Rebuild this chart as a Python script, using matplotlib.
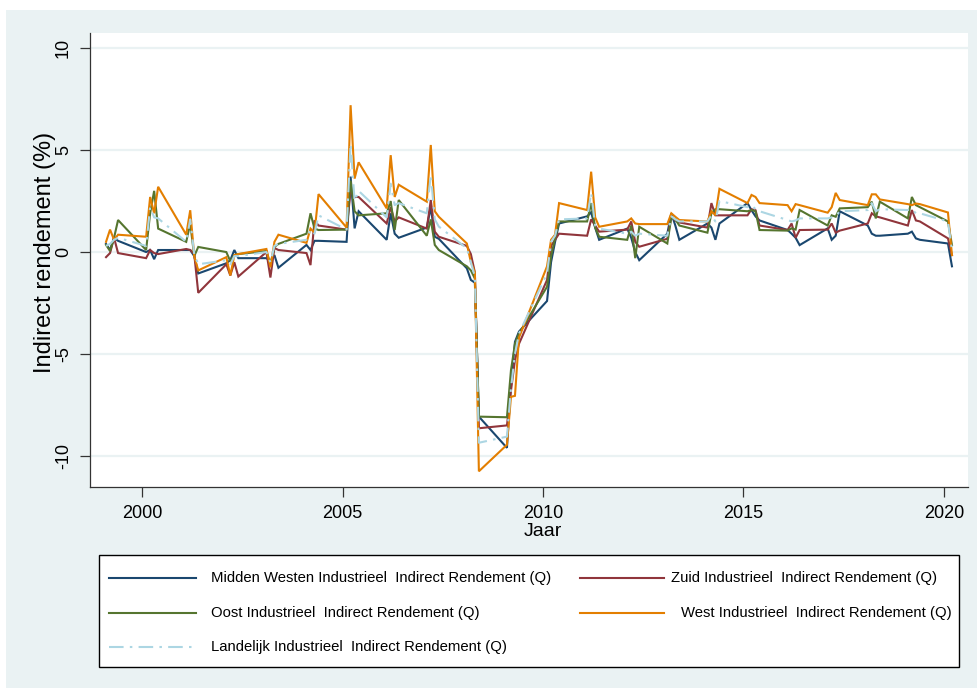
import matplotlib
matplotlib.use("Agg")
import matplotlib.pyplot as plt
from matplotlib.lines import Line2D
from matplotlib.patches import Rectangle

plt.rcParams['font.family'] = ['Liberation Sans', 'DejaVu Sans']

# Quarterly time axis: year + quarter/10 (1999.1 ... 2020.2)
years = list(range(1999, 2021))
quarters = [1, 2, 3, 4]
jaar = [y + q / 10 for y in years for q in quarters][:86]

midden_westen = [
    0.4, 0.1, 0.7, 0.55,
    0.0, 0.1, -0.35, 0.1,
    0.1, 0.1, -0.2, -1.05,
    -0.55, -0.4, 0.1, -0.3,
    -0.3, -0.45, -0.15, -0.77,
    0.35, 0.1, 0.55, 0.55,
    0.5, 3.7, 1.16, 2.0,
    0.6, 1.9, 0.9, 0.7,
    1.2, 2.2, 0.75, 0.65,
    -0.8, -1.37, -1.5, -8.07,
    -9.6, -6.5, -4.4, -3.9,
    -2.4, -0.5, 0.5, 1.4,
    1.75, 1.95, 1.2, 0.6,
    1.15, 0.7, 0.0, -0.4,
    0.9, 1.9, 1.3, 0.6,
    1.4, 1.2, 0.6, 1.4,
    2.4, 2.05, 1.75, 1.55,
    1.08, 0.9, 0.7, 0.34,
    1.16, 0.6, 0.8, 2.0,
    1.3, 0.9, 0.8, 0.8,
    0.9, 1.0, 0.67, 0.6,
    0.42, -0.7,
]

zuid = [
    -0.25, -0.05, 0.7, -0.05,
    -0.3, 0.1, -0.05, -0.1,
    0.15, 0.1, -0.1, -2.0,
    -0.6, -1.15, -0.5, -1.2,
    0.0, -1.25, 0.2, 0.1,
    -0.05, -0.64, 1.55, 1.3,
    1.1, 3.0, 2.7, 2.7,
    1.4, 2.2, 1.5, 1.7,
    1.15, 2.55, 1.0, 0.75,
    0.3, -0.1, -1.0, -8.64,
    -8.5, -6.8, -5.3, -4.5,
    -1.37, 0.3, 0.6, 0.9,
    0.8, 1.6, 1.3, 1.0,
    1.1, 1.5, 0.5, 0.26,
    0.65, 1.75, 1.55, 1.45,
    1.2, 2.4, 1.8, 1.8,
    1.8, 2.1, 2.05, 1.3,
    1.08, 1.4, 0.7, 1.08,
    1.1, 1.4, 0.95, 1.05,
    1.4, 1.9, 1.75, 1.7,
    1.3, 2.06, 1.55, 1.5,
    0.67, -0.15,
]

oost = [
    0.35, 0.05, 0.7, 1.57,
    0.1, 1.9, 3.0, 1.15,
    0.5, 1.4, -0.2, 0.25,
    0.0, -0.45, -0.15, -0.1,
    0.05, -0.6, 0.25, 0.4,
    0.9, 1.9, 1.15, 1.08,
    1.1, 3.5, 2.0, 1.8,
    1.9, 2.5, 1.08, 2.55,
    0.8, 1.6, 0.35, 0.1,
    -0.7, -0.9, -1.3, -8.07,
    -8.1, -5.8, -4.5, -4.0,
    -1.7, -0.2, 0.67, 1.5,
    1.5, 2.4, 1.2, 0.75,
    0.6, 1.3, -0.3, 1.24,
    0.42, 1.7, 1.6, 1.3,
    0.95, 1.9, 2.1, 2.1,
    2.0, 2.06, 2.0, 1.08,
    1.05, 1.16, 1.1, 2.06,
    1.3, 1.8, 1.73, 2.14,
    2.2, 2.47, 1.65, 2.47,
    1.65, 2.7, 2.3, 2.2,
    1.5, 0.34,
]

west = [
    0.5, 1.1, 0.6, 0.85,
    0.75, 2.7, 1.9, 3.2,
    0.85, 2.05, -0.2, -0.9,
    -0.25, -1.15, -0.15, -0.1,
    0.15, -0.75, 0.5, 0.85,
    0.45, 1.15, 0.95, 2.84,
    1.2, 7.2, 3.6, 4.4,
    2.14, 4.75, 2.7, 3.3,
    2.47, 5.25, 2.0, 1.73,
    0.42, -0.5, -1.0, -10.75,
    -9.45, -7.1, -7.05, -4.2,
    -0.7, 0.6, 0.85, 2.4,
    2.06, 3.94, 1.7, 1.24,
    1.5, 1.65, 1.4, 1.37,
    1.37, 1.9, 1.73, 1.57,
    1.5, 2.0, 1.8, 3.1,
    2.4, 2.8, 2.7, 2.4,
    2.3, 2.0, 2.35, 2.3,
    1.93, 2.2, 2.9, 2.55,
    2.3, 2.83, 2.83, 2.58,
    2.35, 2.3, 2.38, 2.35,
    1.94, -0.15,
]

landelijk = [
    0.3, 0.4, 0.6, 0.7,
    0.3, 2.2, 1.7, 1.65,
    0.5, 1.6, -0.1, -0.6,
    -0.4, -0.6, -0.2, -0.2,
    0.0, -0.5, 0.3, 0.4,
    0.6, 1.1, 0.9, 1.8,
    1.1, 5.3, 2.5, 3.0,
    1.7, 3.35, 2.3, 2.4,
    1.9, 3.8, 1.6, 1.25,
    0.18, -0.5, -1.2, -9.35,
    -9.05, -6.7, -5.0, -4.0,
    -1.05, 0.5, 0.8, 1.6,
    1.65, 2.9, 1.3, 1.15,
    0.9, 1.0, 0.8, 0.9,
    0.8, 1.75, 1.6, 1.5,
    1.5, 1.8, 1.5, 2.5,
    2.2, 2.3, 2.1, 2.0,
    1.57, 1.5, 1.55, 1.65,
    1.65, 1.7, 1.75, 2.0,
    2.06, 2.4, 2.0, 2.1,
    2.06, 2.1, 1.9, 1.9,
    1.5, 0.1,
]

labels = [
    "Midden Westen Industrieel  Indirect Rendement (Q)",
    "Zuid Industrieel  Indirect Rendement (Q)",
    "Oost Industrieel  Indirect Rendement (Q)",
    "West Industrieel  Indirect Rendement (Q)",
    "Landelijk Industrieel  Indirect Rendement (Q)",
]
x_ticks = [2000, 2005, 2010, 2015, 2020]
y_ticks = [-10, -5, 0, 5, 10]

W, H = 978, 691
BG = "#eaf2f3"
colors = ["#1a476f", "#90353b", "#55752f", "#e37e00", "#acd6e3"]
dash_land = (0, (7, 3, 1.2, 3))
styles = ["-", "-", "-", "-", dash_land]


def fx(px):
    return px / W


def fy(py):
    return 1 - py / H


fig = plt.figure(figsize=(W / 100, H / 100), dpi=100, facecolor="white")
fig.add_artist(Rectangle((fx(6), fy(688)), fx(978) - fx(6), fy(10) - fy(688),
                         transform=fig.transFigure, facecolor=BG,
                         edgecolor="none", zorder=-10))

ax = fig.add_axes([fx(90), fy(487), fx(968) - fx(90), fy(33) - fy(487)])
ax.set_facecolor("white")

series = [midden_westen, zuid, oost, west, landelijk]
for vals, c, ls in zip(series, colors, styles):
    ax.plot(jaar, vals, color=c, lw=1.5, linestyle=ls, solid_joinstyle="miter")

ax.set_xlim(1998.70, 2020.6)
ax.set_ylim(-11.52, 10.74)
ax.set_xticks(x_ticks)
ax.set_yticks(y_ticks)
ax.set_xticklabels([str(t) for t in x_ticks], fontsize=13)
ax.set_yticklabels([str(t) for t in y_ticks], fontsize=13, rotation=90,
                   va="center")
ax.grid(axis="y", color=BG, lw=1.6)
ax.set_axisbelow(True)
for s in ["top", "right"]:
    ax.spines[s].set_visible(False)
for s in ["left", "bottom"]:
    ax.spines[s].set_color("#333333")
    ax.spines[s].set_linewidth(0.9)
ax.tick_params(axis="x", direction="out", length=7, width=0.9,
               color="#333333", pad=6)
ax.tick_params(axis="y", direction="out", length=7, width=0.9,
               color="#333333", pad=6)

fig.text(fx(543), fy(531), "Jaar", fontsize=14, ha="center", va="center")
fig.text(fx(45), fy(252), "Indirect rendement (%)", fontsize=17,
         rotation=90, ha="center", va="center")

# Legend box
fig.add_artist(Rectangle((fx(99), fy(667)), fx(959) - fx(99), fy(555) - fy(667),
                         transform=fig.transFigure, facecolor="white",
                         edgecolor="black", lw=1.0))
entries = [
    (0, 578, 109, 196, 211),
    (1, 578, 580, 664, 671),
    (2, 613, 109, 196, 211),
    (3, 613, 580, 664, 681),
    (4, 647, 109, 196, 211),
]
for i, py, x1, x2, tx in entries:
    fig.add_artist(Line2D([fx(x1), fx(x2)], [fy(py), fy(py)],
                          transform=fig.transFigure, color=colors[i],
                          lw=1.5, linestyle=styles[i]))
    fig.text(fx(tx), fy(py), labels[i], fontsize=10.7, ha="left",
             va="center")

fig.savefig("out.png", dpi=100, facecolor="white")
